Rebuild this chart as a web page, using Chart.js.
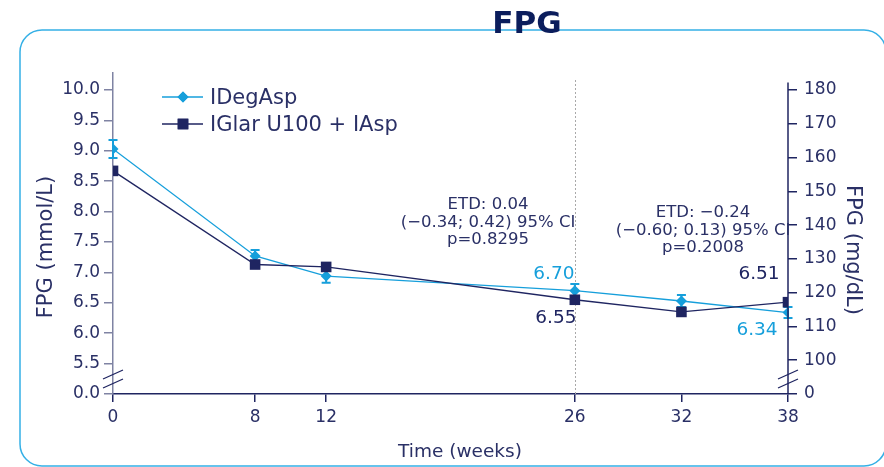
<!DOCTYPE html>
<html>
<head>
<meta charset="utf-8">
<script src="https://cdn.jsdelivr.net/npm/chart.js@4.4.1/dist/chart.umd.min.js"></script>
<style>
  html, body { margin: 0; padding: 0; background: #ffffff; }
  #wrap { width: 884px; height: 467px; position: relative; }
</style>
</head>
<body>
<div id="wrap"><canvas id="fpg"></canvas></div>
<script>
// Study weeks and mean FPG (mmol/L) per treatment arm
const weeks = [0, 8, 12, 26, 32, 38];
const idegaspMean = [9.03, 7.27, 6.94, 6.70, 6.53, 6.34];
const idegaspErr = [0.15, 0.10, 0.11, 0.11, 0.10, 0.09];
const iglarMean = [8.67, 7.13, 7.09, 6.55, 6.35, 6.51];

// Axis ticks (the lowest tick sits at the axis break)
const mmolTickValues = [5.0, 5.5, 6.0, 6.5, 7.0, 7.5, 8.0, 8.5, 9.0, 9.5, 10.0];
const mmolTickLabels = ['0.0', '5.5', '6.0', '6.5', '7.0', '7.5', '8.0', '8.5', '9.0', '9.5', '10.0'];
const mgdlTickValues = [90, 100, 110, 120, 130, 140, 150, 160, 170, 180];
const mgdlTickLabels = ['0', '100', '110', '120', '130', '140', '150', '160', '170', '180'];
const weekTicks = [0, 8, 12, 26, 32, 38];

const seriesNames = ['IDegAsp', 'IGlar U100 + IAsp'];
const etdWeek26 = ['ETD: 0.04', '(\u22120.34; 0.42) 95% CI', 'p=0.8295'];
const etdWeek38 = ['ETD: \u22120.24', '(\u22120.60; 0.13) 95% CI', 'p=0.2008'];

const MMOL_MIN = 5.0, MMOL_MAX = 10.28;
const MG_PER_MMOL = 18;

const LIGHT = '#169fdb';
const NAVY = '#1f2561';
const TEXT = '#2a3066';
const AXIS_GREY = '#7f83a3';
const FONT = "'DejaVu Sans', Verdana, sans-serif";

const decor = {
  id: 'decor',
  beforeDraw(chart) {
    const ctx = chart.ctx;
    ctx.save();
    // rounded frame
    ctx.strokeStyle = '#35b0e6';
    ctx.lineWidth = 1.5;
    ctx.beginPath();
    ctx.roundRect(20, 30, 866, 436, 22);
    ctx.stroke();
    // title
    ctx.fillStyle = '#0b1d5c';
    ctx.font = "bold 31px " + FONT;
    ctx.textAlign = 'center';
    ctx.textBaseline = 'alphabetic';
    ctx.fillText('FPG', 527, 33);
    ctx.restore();
  },
  beforeDatasetsDraw(chart) {
    const ctx = chart.ctx;
    const x = chart.scales.x, y = chart.scales.y;
    ctx.save();
    // dotted reference line at week 26
    ctx.strokeStyle = '#a9a9a9';
    ctx.lineWidth = 1;
    ctx.setLineDash([2, 2]);
    ctx.beginPath();
    const xr = Math.round(x.getPixelForValue(26)) + 0.5;
    ctx.moveTo(xr, 80);
    ctx.lineTo(xr, y.bottom);
    ctx.stroke();
    ctx.setLineDash([]);
    // error bars for IDegAsp
    ctx.strokeStyle = LIGHT;
    ctx.lineWidth = 2;
    weeks.forEach((w, i) => {
      const px = x.getPixelForValue(w);
      const top = y.getPixelForValue(idegaspMean[i] + idegaspErr[i]);
      const bot = y.getPixelForValue(idegaspMean[i] - idegaspErr[i]);
      ctx.beginPath();
      ctx.moveTo(px, top); ctx.lineTo(px, bot);
      ctx.moveTo(px - 4.5, top); ctx.lineTo(px + 4.5, top);
      ctx.moveTo(px - 4.5, bot); ctx.lineTo(px + 4.5, bot);
      ctx.stroke();
    });
    ctx.restore();
  },
  afterDraw(chart) {
    const ctx = chart.ctx;
    const x = chart.scales.x, y = chart.scales.y, y2 = chart.scales.y2;
    const area = chart.chartArea;
    ctx.save();

    // right axis line
    ctx.strokeStyle = NAVY;
    ctx.lineWidth = 1.5;
    ctx.beginPath();
    ctx.moveTo(area.right, y2.getPixelForValue(182.2));
    ctx.lineTo(area.right, area.bottom);
    ctx.stroke();

    // axis break marks
    const brk = (cx) => {
      ctx.strokeStyle = NAVY;
      ctx.lineWidth = 1.3;
      ctx.beginPath();
      ctx.moveTo(cx - 10, 379); ctx.lineTo(cx + 10, 370);
      ctx.moveTo(cx - 10, 388); ctx.lineTo(cx + 10, 379);
      ctx.stroke();
    };
    brk(area.left);
    brk(area.right);

    // legend
    const legendRows = [
      { name: seriesNames[0], color: LIGHT, style: 'rectRot', r: 5.5, y: 97 },
      { name: seriesNames[1], color: NAVY, style: 'rect', r: 7.5, y: 124 }
    ];
    legendRows.forEach(row => {
      ctx.strokeStyle = row.color;
      ctx.lineWidth = 1.3;
      ctx.beginPath();
      ctx.moveTo(162, row.y); ctx.lineTo(203, row.y);
      ctx.stroke();
      ctx.fillStyle = row.color;
      Chart.helpers.drawPoint(ctx, { pointStyle: row.style, radius: row.r, borderWidth: 0 }, 183, row.y);
      ctx.fill();
      ctx.fillStyle = TEXT;
      ctx.font = "21px " + FONT;
      ctx.textAlign = 'left';
      ctx.textBaseline = 'alphabetic';
      ctx.fillText(row.name, 210, row.y + 7);
    });

    // axis titles
    ctx.fillStyle = TEXT;
    ctx.textAlign = 'center';
    ctx.textBaseline = 'middle';
    ctx.font = "21px " + FONT;
    ctx.save();
    ctx.translate(47, 247);
    ctx.rotate(-Math.PI / 2);
    ctx.fillText('FPG (mmol/L)', 0, 0);
    ctx.restore();
    ctx.save();
    ctx.translate(852, 250);
    ctx.rotate(Math.PI / 2);
    ctx.fillText('FPG (mg/dL)', 0, 0);
    ctx.restore();
    ctx.font = "18.5px " + FONT;
    ctx.fillText('Time (weeks)', 460, 452);

    // treatment difference annotations
    ctx.font = "16.5px " + FONT;
    ctx.textBaseline = 'alphabetic';
    etdWeek26.forEach((t, i) => ctx.fillText(t, 488, 209 + i * 17.5));
    etdWeek38.forEach((t, i) => ctx.fillText(t, 703, 217 + i * 17.5));

    // end-point value labels
    ctx.font = "18.5px " + FONT;
    const label = (val, week, dx, dy, color) => {
      ctx.fillStyle = color;
      ctx.fillText(val.toFixed(2), x.getPixelForValue(week) + dx, y.getPixelForValue(val) + dy);
    };
    label(idegaspMean[3], weeks[3], -21, -12, LIGHT);
    label(iglarMean[3], weeks[3], -19, 23, NAVY);
    label(iglarMean[5], weeks[5], -29, -23, NAVY);
    label(idegaspMean[5], weeks[5], -31, 22.5, LIGHT);

    ctx.restore();
  }
};

new Chart(document.getElementById('fpg'), {
  type: 'line',
  data: {
    datasets: [
      {
        label: seriesNames[0],
        data: weeks.map((w, i) => ({ x: w, y: idegaspMean[i] })),
        borderColor: LIGHT,
        backgroundColor: LIGHT,
        borderWidth: 1.3,
        pointStyle: 'rectRot',
        pointRadius: 5.5,
        pointBorderWidth: 0,
        tension: 0,
        order: 2,
        yAxisID: 'y'
      },
      {
        label: seriesNames[1],
        data: weeks.map((w, i) => ({ x: w, y: iglarMean[i] })),
        borderColor: NAVY,
        backgroundColor: NAVY,
        borderWidth: 1.3,
        pointStyle: 'rect',
        pointRadius: 7.5,
        pointBorderWidth: 0,
        tension: 0,
        order: 1,
        yAxisID: 'y'
      }
    ]
  },
  options: {
    responsive: true,
    maintainAspectRatio: false,
    animation: false,
    devicePixelRatio: 1,
    layout: { padding: { top: 73, left: 0, right: 0, bottom: 0 } },
    plugins: { legend: { display: false }, tooltip: { enabled: false } },
    scales: {
      x: {
        type: 'linear',
        min: 0,
        max: 38,
        afterBuildTicks: s => { s.ticks = weekTicks.map(v => ({ value: v })); },
        afterFit: s => { s.height = 73; },
        border: { display: true, color: NAVY, width: 1.5 },
        grid: { drawOnChartArea: false, drawTicks: true, tickLength: 8, color: NAVY, lineWidth: 1.5 },
        ticks: { color: TEXT, font: { family: FONT, size: 17 }, padding: 5, maxRotation: 0, autoSkip: false }
      },
      y: {
        type: 'linear',
        position: 'left',
        min: MMOL_MIN,
        max: MMOL_MAX,
        afterBuildTicks: s => { s.ticks = mmolTickValues.map(v => ({ value: v })); },
        afterFit: s => { s.width = 113; },
        border: { display: true, color: AXIS_GREY, width: 1.5 },
        grid: { drawOnChartArea: false, drawTicks: true, tickLength: 9, color: AXIS_GREY, lineWidth: 1.5 },
        ticks: {
          color: TEXT, font: { family: FONT, size: 17 }, padding: 4, autoSkip: false,
          callback: (v) => mmolTickLabels[mmolTickValues.indexOf(Math.round(v * 10) / 10)]
        }
      },
      y2: {
        type: 'linear',
        position: 'right',
        min: MMOL_MIN * MG_PER_MMOL,
        max: MMOL_MAX * MG_PER_MMOL,
        afterBuildTicks: s => { s.ticks = mgdlTickValues.map(v => ({ value: v })); },
        afterFit: s => { s.width = 96; },
        border: { display: false },
        grid: { drawOnChartArea: false, drawTicks: true, tickLength: 9, color: NAVY, lineWidth: 1.5 },
        ticks: {
          color: TEXT, font: { family: FONT, size: 17 }, padding: 7, autoSkip: false,
          callback: (v) => mgdlTickLabels[mgdlTickValues.indexOf(Math.round(v))]
        }
      }
    }
  },
  plugins: [decor]
});
</script>
</body>
</html>
